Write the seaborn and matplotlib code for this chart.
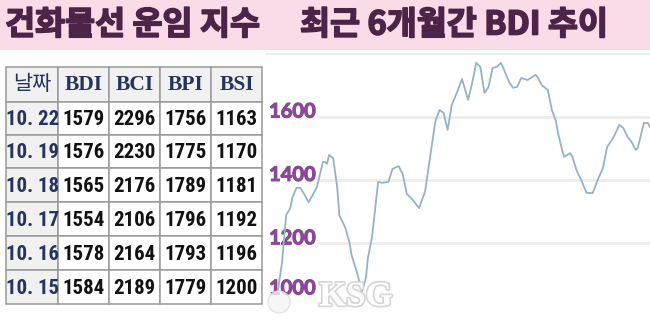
import matplotlib
matplotlib.use("Agg")
import matplotlib.pyplot as plt
import matplotlib.patheffects as pe
from matplotlib.patches import Rectangle, Circle
from matplotlib import font_manager
import seaborn as sns
import pandas as pd

# ---------------- data ----------------
title_left = "건화물선 운임 지수"
title_right = "최근 6개월간 BDI 추이"

table_header = ["날짜", "BDI", "BCI", "BPI", "BSI"]
table_dates = ["10. 22", "10. 19", "10. 18", "10. 17", "10. 16", "10. 15"]
bdi_col = [1579, 1576, 1565, 1554, 1578, 1584]
bci_col = [2296, 2230, 2176, 2106, 2164, 2189]
bpi_col = [1756, 1775, 1789, 1796, 1793, 1779]
bsi_col = [1163, 1170, 1181, 1192, 1196, 1200]

line_dates = [
    "2018-04-23", "2018-04-25", "2018-04-27", "2018-04-29", "2018-04-30", "2018-05-02", "2018-05-04", "2018-05-06",
    "2018-05-08", "2018-05-10", "2018-05-12", "2018-05-15", "2018-05-16", "2018-05-17", "2018-05-18", "2018-05-20",
    "2018-05-22", "2018-05-23", "2018-05-26", "2018-05-28", "2018-05-29", "2018-06-01", "2018-06-03", "2018-06-05",
    "2018-06-06", "2018-06-08", "2018-06-11", "2018-06-13", "2018-06-16", "2018-06-18", "2018-06-21", "2018-06-23",
    "2018-06-25", "2018-06-28", "2018-07-01", "2018-07-04", "2018-07-06", "2018-07-09", "2018-07-11", "2018-07-13",
    "2018-07-15", "2018-07-17", "2018-07-20", "2018-07-22", "2018-07-25", "2018-07-27", "2018-07-29", "2018-07-31",
    "2018-08-02", "2018-08-04", "2018-08-06", "2018-08-08", "2018-08-10", "2018-08-11", "2018-08-14", "2018-08-16",
    "2018-08-18", "2018-08-20", "2018-08-23", "2018-08-24", "2018-08-27", "2018-08-28", "2018-08-30", "2018-09-02",
    "2018-09-04", "2018-09-06", "2018-09-07", "2018-09-09", "2018-09-10", "2018-09-13", "2018-09-14", "2018-09-16",
    "2018-09-19", "2018-09-21", "2018-09-24", "2018-09-26", "2018-09-29", "2018-10-01", "2018-10-04", "2018-10-07",
    "2018-10-09", "2018-10-11", "2018-10-13", "2018-10-15", "2018-10-16", "2018-10-19", "2018-10-21", "2018-10-22",
]
line_values = [
    1052, 1141, 1289, 1311, 1343, 1375, 1375, 1353, 1330, 1353,
    1378, 1457, 1457, 1451, 1479, 1469, 1375, 1289, 1248, 1201,
    1163, 1100, 1046, 1091, 1154, 1220, 1394, 1391, 1394, 1435,
    1444, 1419, 1356, 1337, 1311, 1365, 1454, 1586, 1621, 1612,
    1558, 1637, 1684, 1719, 1653, 1706, 1770, 1757, 1675, 1694,
    1754, 1757, 1770, 1757, 1710, 1691, 1694, 1722, 1716, 1719,
    1732, 1725, 1700, 1684, 1621, 1586, 1548, 1495, 1473, 1485,
    1473, 1432, 1390, 1359, 1359, 1394, 1438, 1504, 1533, 1574,
    1564, 1536, 1520, 1495, 1501, 1580, 1580, 1567,
]
y_ticks = [1000, 1200, 1400, 1600]
y_grid = [1200, 1400, 1600, 1800]

# ---------------- style ----------------
sns.set_theme(style="white")
plt.rcParams["font.family"] = ["Noto Sans CJK KR", "DejaVu Sans"]

installed = {f.name for f in font_manager.fontManager.ttflist}
narrow_candidates = ["Liberation Sans Narrow", "DejaVu Sans Condensed", "Roboto Condensed"]
narrow = next((n for n in narrow_candidates if n in installed), None)
if narrow is None:
    num_family, num_size, num_stretch = ["Roboto", "DejaVu Sans"], 13, "normal"
else:
    num_family, num_size, num_stretch = [narrow, "DejaVu Sans"], 15, "condensed"

W, H = 650, 320
fig = plt.figure(figsize=(6.5, 3.2), dpi=100)
fig.patch.set_facecolor("white")

bg = fig.add_axes([0, 0, 1, 1], zorder=0)
bg.set_xlim(0, W)
bg.set_ylim(H, 0)
bg.axis("off")

# banner
bg.add_patch(Rectangle((0, 0), W, 50, facecolor="#f9dce8", edgecolor="none"))
title_color = "#4b2447"
title_fx = [pe.withStroke(linewidth=1.2, foreground=title_color)]
bg.text(5, 25, title_left, fontsize=23.5, fontweight="black", color=title_color,
        va="center", ha="left", family=["Noto Sans CJK KR", "DejaVu Sans"], path_effects=title_fx)
bg.text(300, 25, title_right, fontsize=23.5, fontweight="black", color=title_color,
        va="center", ha="left", family=["Noto Sans CJK KR", "DejaVu Sans"], path_effects=title_fx)

# ---------------- table ----------------
col_edges = [6, 58, 109, 160, 211, 262]
row_edges = [67, 102, 135, 168, 202, 236, 270, 304]
head_bg = "#f1f1f1"
navy = "#26335c"
border = "#9a9a9a"
columns = [table_dates, bdi_col, bci_col, bpi_col, bsi_col]
for r in range(len(row_edges) - 1):
    y0, y1 = row_edges[r], row_edges[r + 1]
    for c in range(len(col_edges) - 1):
        x0, x1 = col_edges[c], col_edges[c + 1]
        fc = head_bg if (r == 0 or c == 0) else "white"
        bg.add_patch(Rectangle((x0, y0), x1 - x0, y1 - y0, facecolor=fc,
                               edgecolor=border, lw=1.1, zorder=2))
        cx, cy = (x0 + x1) / 2, (y0 + y1) / 2
        if r == 0:
            if c == 0:
                bg.text(cx, cy, table_header[c], fontsize=15, color=navy,
                        ha="center", va="center", zorder=3,
                        family=["Noto Sans CJK KR", "DejaVu Sans"])
            else:
                bg.text(cx, cy + 1, table_header[c], fontsize=15.5, color=navy,
                        fontweight="bold", ha="center", va="center", zorder=3,
                        family=["Liberation Serif", "DejaVu Serif"])
        else:
            val = columns[c][r - 1]
            if c == 0:
                bg.text(cx + 1, cy + 1, val, fontsize=num_size, color=navy, fontweight="bold",
                        fontstretch=num_stretch, ha="center", va="center", zorder=3,
                        family=num_family)
            else:
                bg.text(cx, cy + 1, str(val), fontsize=num_size, color="#111111", fontweight="bold",
                        fontstretch=num_stretch, ha="center", va="center", zorder=3,
                        family=num_family)

# ---------------- line chart ----------------
ax_left, ax_right = 265, 650
y_top, y_bot = 53.3, 306.7
ax = fig.add_axes([ax_left / W, 1 - y_bot / H, (ax_right - ax_left) / W, (y_bot - y_top) / H], zorder=1)
ax.patch.set_alpha(0)

df = pd.DataFrame({"date": pd.to_datetime(line_dates), "BDI": line_values})
start, end = df["date"].iloc[0], df["date"].iloc[-1]
days_per_px = (end - start) / (ax_right - 278)
ax.set_xlim(start - days_per_px * (278 - ax_left), end)
ax.set_ylim(1000, 1800)

grid_x0 = (318 - ax_left) / (ax_right - ax_left)
for g in y_grid:
    ax.axhline(g, xmin=grid_x0 if g != 1800 else 0, xmax=1, color="#ececec", lw=2, zorder=0)

sns.lineplot(data=df, x="date", y="BDI", ax=ax, color="#93b3cb", lw=1.3, zorder=3)

for t in y_ticks:
    off = 16 if t != 1000 else 58
    ax.text((269 - ax_left) / (ax_right - ax_left), t + off, f"{t}",
            transform=ax.get_yaxis_transform(), fontsize=14.5, fontweight="bold",
            color="#8a4896", ha="left", va="center", family=["Lato", "DejaVu Sans"], zorder=2,
            path_effects=[pe.withStroke(linewidth=0.8, foreground="#8a4896")])

for s in ax.spines.values():
    s.set_visible(False)
ax.set_xticks([])
ax.set_yticks([])
ax.set_xlabel("")
ax.set_ylabel("")

# watermark
wm = fig.add_axes([0, 0, 1, 1], zorder=4)
wm.set_xlim(0, W)
wm.set_ylim(H, 0)
wm.axis("off")
wm.add_patch(Circle((279, 302), 11, facecolor="#f6f6f6", edgecolor="#dddddd", lw=1, alpha=0.8))
wm.text(356, 297, "KSG", fontsize=25, fontweight="bold", color="white",
        ha="center", va="center", family=["Liberation Serif", "DejaVu Serif"],
        path_effects=[pe.withStroke(linewidth=2.5, foreground="#d6d6d6")])

fig.savefig("out.png", dpi=100, facecolor="white")
